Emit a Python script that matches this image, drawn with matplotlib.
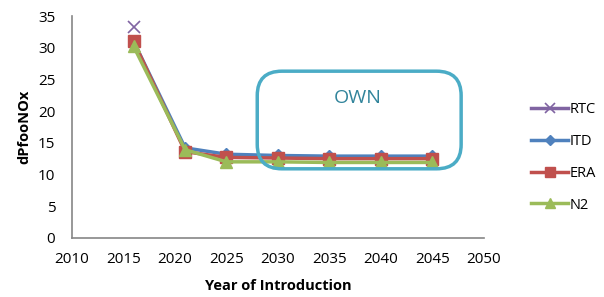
import numpy as np
import matplotlib.pyplot as plt
from matplotlib.patches import FancyBboxPatch

years = [2016, 2021, 2025, 2030, 2035, 2040, 2045]
rtc = [33.3, np.nan, np.nan, np.nan, np.nan, np.nan, np.nan]
itd = [31.0, 14.2, 13.2, 13.0, 12.9, 12.9, 12.9]
era = [31.0, 13.6, 12.7, 12.6, 12.5, 12.5, 12.5]
n2 = [30.2, 13.9, 12.0, 12.0, 11.9, 11.9, 11.9]

xticks = list(range(2010, 2051, 5))
yticks = list(range(0, 36, 5))

plt.rcParams['font.family'] = ['Open Sans', 'DejaVu Sans']

fig = plt.figure(figsize=(6.04, 2.97), dpi=100)
ax = fig.add_axes([0.119, 0.199, 0.682, 0.747])

ax.plot(years, rtc, color='#8064A2', lw=2.5, marker='x', ms=9, mew=1.2, label='RTC', zorder=3)
ax.plot(years, itd, color='#4F81BD', lw=2.5, marker='D', ms=6, label='ITD', zorder=4)
ax.plot(years, era, color='#C0504D', lw=2.5, marker='s', ms=9, label='ERA', zorder=5)
ax.plot(years, n2, color='#9BBB59', lw=2.5, marker='^', ms=9, label='N2', zorder=6)

box = FancyBboxPatch((2028.0, 10.9), 19.8, 15.4,
                     boxstyle='round,pad=0,rounding_size=2.4',
                     mutation_aspect=1.6,
                     fill=False, ec='#4BACC6', lw=2.5, zorder=7)
ax.add_patch(box)
ax.text(2037.8, 22.0, 'OWN', color='#31849B', fontsize=14, ha='center', va='center', zorder=8)

ax.set_xlim(2010, 2050)
ax.set_ylim(0, 35)
ax.set_xticks(xticks)
ax.set_yticks(yticks)
ax.tick_params(length=0, labelsize=11)
ax.tick_params(axis='y', pad=12)
ax.tick_params(axis='x', pad=10)
for s in ['top', 'right']:
    ax.spines[s].set_visible(False)
for s in ['left', 'bottom']:
    ax.spines[s].set_color('#868686')
    ax.spines[s].set_linewidth(1.2)

ax.set_xlabel('Year of Introduction', fontsize=10.5, fontweight='bold', labelpad=9)
ax.set_ylabel('dPfooNOx', fontsize=10.5, fontweight='bold', labelpad=5)

leg = fig.legend(loc='center left', bbox_to_anchor=(0.858, 0.47), frameon=False,
                 fontsize=10.5, handlelength=2.5, handletextpad=0.1, labelspacing=1.15,
                 markerscale=0.85)

fig.savefig('out.png', dpi=100)
